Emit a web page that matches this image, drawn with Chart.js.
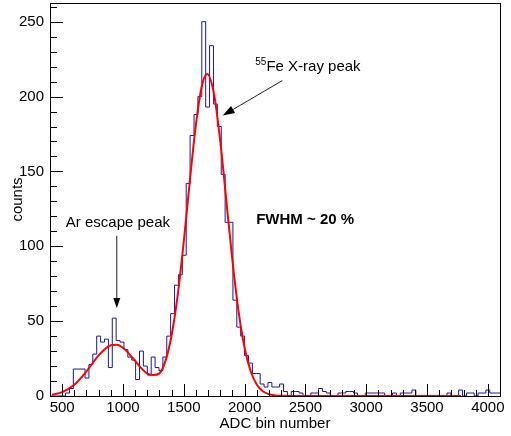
<!DOCTYPE html>
<html>
<head>
<meta charset="utf-8">
<script src="https://cdn.jsdelivr.net/npm/chart.js@4"></script>
<style>
  html, body { margin: 0; padding: 0; background: #fff; }
</style>
</head>
<body>
<canvas id="spectrum" width="511" height="436"></canvas>
<script>
// histogram binning (ADC channels), 32 channels per bin
const binLow = 400;
const binWidth = 32;
const xMin = 400;
const xMax = 4100;

// counts per bin
const counts = [
  0, 0, 0, 0, 2, 5, 18, 18, 18, 12,
  21, 28, 40, 36, 38, 19, 52, 37, 36, 31,
  26, 24, 11, 30, 20, 14, 26, 19, 17, 26,
  40, 55, 74, 81, 94, 142, 174, 188, 200, 250,
  193, 234, 195, 180, 148, 116, 116, 64, 46, 40,
  27, 22, 15, 15, 8, 6, 9, 6, 6, 8,
  3, 0, 3, 3, 2, 0, 0, 2, 2, 5,
  3, 2, 0, 0, 2, 2, 3, 3, 2, 0,
  0, 2, 2, 2, 2, 2, 0, 0, 2, 0,
  2, 2, 2, 4, 0, 0, 0, 0, 0, 0,
  0, 0, 2, 0, 0, 4, 0, 2, 2, 0,
  2, 2, 4, 2, 2, 2
];

// fitted curve (two gaussians), sampled from the red line
const fitX = [416, 500, 600, 700, 800, 900, 950, 1000, 1100, 1150, 1200, 1250, 1300, 1350,
  1400, 1450, 1500, 1550, 1600, 1650, 1692, 1750, 1800, 1850, 1900, 1950, 2000, 2050,
  2100, 2150, 2200, 2250, 2300, 2400, 3000, 3780];
const fitY = [0.9, 2.6, 7.5, 16.4, 27.1, 33.9, 34.3, 32.2, 23.5, 18.6, 15.0, 14.0, 15.1, 23.6,
  40.6, 67.3, 103.2, 143.8, 181.5, 207.5, 215, 201, 170.2, 130.4, 90.4, 56.7, 32.2, 16.5,
  7.7, 3.2, 1.2, 0.4, 0.1, 0, 0, 0];

const xTicks = [500, 1000, 1500, 2000, 2500, 3000, 3500, 4000];
const yTicks = [0, 50, 100, 150, 200, 250];

const font = "'Liberation Sans', Arial, sans-serif";

let histPoints = counts.map((c, i) => ({ x: binLow + i * binWidth, y: c }));
histPoints.push({ x: binLow + counts.length * binWidth, y: counts[counts.length - 1] });
const fitPoints = fitX.map((v, i) => ({ x: v, y: fitY[i] }));

function minorValues(major, min, max) {
  const step = (major[1] - major[0]) / 5;
  let out = [];
  let v = major[0];
  while (v - step >= min) v -= step;
  for (; v <= max + 1e-9; v += step) out.push(Math.round(v * 1000) / 1000);
  return out;
}

function drawArrow(ctx, x1, y1, x2, y2, head, half) {
  const a = Math.atan2(y2 - y1, x2 - x1);
  const bx = x2 - head * Math.cos(a);
  const by = y2 - head * Math.sin(a);
  ctx.beginPath();
  ctx.moveTo(x1, y1);
  ctx.lineTo(bx, by);
  ctx.stroke();
  ctx.beginPath();
  ctx.moveTo(x2, y2);
  ctx.lineTo(bx + half * Math.sin(a), by - half * Math.cos(a));
  ctx.lineTo(bx - half * Math.sin(a), by + half * Math.cos(a));
  ctx.closePath();
  ctx.fill();
}

// ROOT-like frame, inward ticks and the text annotations
const rootFrame = {
  id: 'rootFrame',
  afterDatasetsDraw(chart) {
    const { ctx, chartArea: area, scales: { x, y } } = chart;
    ctx.save();

    // annotations
    ctx.fillStyle = '#000';
    ctx.textBaseline = 'alphabetic';
    ctx.textAlign = 'left';
    ctx.font = `15px ${font}`;
    ctx.fillText('Ar escape peak', x.getPixelForValue(530), y.getPixelForValue(113));

    ctx.font = `bold 15px ${font}`;
    ctx.fillText('FWHM ~ 20 %', x.getPixelForValue(2095), y.getPixelForValue(115));

    let fx = x.getPixelForValue(2088);
    let fy = y.getPixelForValue(217.3);
    ctx.font = `10px ${font}`;
    ctx.fillText('55', fx, fy - 6);
    fx += ctx.measureText('55').width;
    ctx.font = `15px ${font}`;
    ctx.fillText('Fe X-ray peak', fx, fy);

    ctx.strokeStyle = '#222';
    ctx.fillStyle = '#000';
    ctx.lineWidth = 1;
    drawArrow(ctx, x.getPixelForValue(945) + 0.5, y.getPixelForValue(107),
      x.getPixelForValue(945) + 0.5, y.getPixelForValue(58.7), 10, 3.5);
    drawArrow(ctx, x.getPixelForValue(2310), y.getPixelForValue(210.7),
      x.getPixelForValue(1820), y.getPixelForValue(187.3), 12, 4);

    // ticks pointing into the frame
    ctx.strokeStyle = '#000';
    ctx.beginPath();
    minorValues(xTicks, x.min, x.max).forEach((v) => {
      const px = Math.round(x.getPixelForValue(v)) + 0.5;
      const len = xTicks.includes(v) ? 12 : 6;
      ctx.moveTo(px, area.bottom);
      ctx.lineTo(px, area.bottom - len);
    });
    minorValues(yTicks, y.min, y.max).forEach((v) => {
      const py = Math.round(y.getPixelForValue(v)) + 0.5;
      const len = yTicks.includes(v) ? 13 : 7;
      ctx.moveTo(area.left, py);
      ctx.lineTo(area.left + len, py);
    });
    ctx.stroke();

    ctx.strokeRect(area.left + 0.5, area.top + 0.5, area.width, area.height);
    ctx.restore();
  }
};

const ctx = document.getElementById('spectrum');

new Chart(ctx, {
  type: 'line',
  data: {
    datasets: [
      {
        label: 'fit',
        data: fitPoints,
        borderColor: '#ff0000',
        borderWidth: 2,
        pointRadius: 0,
        cubicInterpolationMode: 'monotone',
        clip: 2,
      },
      {
        label: 'counts',
        data: histPoints,
        borderColor: 'rgb(24, 24, 150)',
        borderWidth: 1,
        pointRadius: 0,
        stepped: true,
      },
    ],
  },
  options: {
    responsive: false,
    animation: false,
    layout: { padding: { top: 3, right: 11, left: 0, bottom: 0 } },
    plugins: {
      legend: { display: false },
      tooltip: { enabled: false },
    },
    scales: {
      x: {
        type: 'linear',
        min: xMin,
        max: xMax,
        afterBuildTicks: (s) => { s.ticks = xTicks.map((v) => ({ value: v })); },
        afterFit: (s) => { s.height = 40; s.paddingLeft = 0; s.paddingRight = 0; },
        grid: { display: false, drawTicks: false },
        border: { display: false },
        ticks: {
          autoSkip: false,
          maxRotation: 0,
          padding: 3,
          color: '#000',
          font: { family: font, size: 15 },
          callback: (v) => String(v),
        },
        title: {
          display: true,
          text: 'ADC bin number',
          color: '#000',
          font: { family: font, size: 15 },
          padding: { top: 0, bottom: 3 },
        },
      },
      y: {
        min: 0,
        max: 262.5,
        afterBuildTicks: (s) => { s.ticks = yTicks.map((v) => ({ value: v })); },
        afterFit: (s) => { s.width = 50; s.paddingTop = 0; s.paddingBottom = 0; },
        grid: { display: false, drawTicks: false },
        border: { display: false },
        ticks: {
          autoSkip: false,
          padding: 6,
          color: '#000',
          font: { family: font, size: 15 },
          callback: (v) => String(v),
        },
        title: {
          display: true,
          text: 'counts',
          color: '#000',
          font: { family: font, size: 15 },
          padding: { top: 9, bottom: 0 },
        },
      },
    },
  },
  plugins: [rootFrame],
});
</script>
</body>
</html>
